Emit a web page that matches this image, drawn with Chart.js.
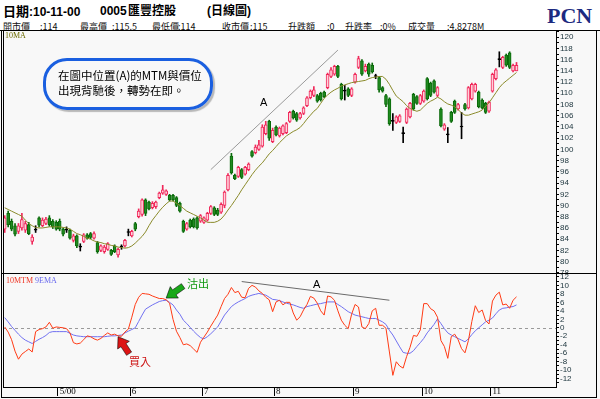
<!DOCTYPE html>
<html>
<head>
<meta charset="utf-8">
<title>0005 匯豐控股 日線圖</title>
<script src="https://cdn.jsdelivr.net/npm/chart.js@4.4.1/dist/chart.umd.min.js"></script>
<style>
  html, body { margin: 0; padding: 0; }
  body { width: 600px; height: 399px; position: relative; overflow: hidden; background: #f8f8f8;
         font-family: "Noto Sans CJK TC", "Liberation Sans", sans-serif; }
  #head { position: absolute; left: 0; top: 0; width: 600px; height: 31px; background: #fff; overflow: hidden; }
  .abs { position: absolute; white-space: nowrap; line-height: 1; }
  .t { top: 5px; font-size: 13px; font-weight: bold; color: #000;
       font-family: "Liberation Sans", "Noto Sans CJK TC", sans-serif; }
  .i { top: 21.5px; font-size: 9px; color: #111; }
  #pcn { left: 547px; top: 3px; font: bold 22px "Liberation Serif", serif; color: #1c2a80; }
  .ln { position: absolute; background: #000; }
  canvas { position: absolute; left: 0; }
  #bubble { position: absolute; left: 43px; top: 58px; width: 164px; height: 46px;
            border: 3px solid #1a5fe0; border-radius: 24px; box-shadow: 2px 2px 1px #b8b8b8; }
  .note { font-size: 11.5px; color: #000; }
  .tag { font: 8px "Liberation Serif", serif; }
</style>
</head>
<body>
<div id="head">
  <span class="abs t" style="left:3px">日期<span style="font-size:12px">:10-11-00</span></span>
  <span class="abs t" style="left:100px;font-size:12px">0005</span>
  <span class="abs t" style="left:128px;font-size:12px">匯豐控股</span>
  <span class="abs t" style="left:207px;font-size:12px">(日線圖)</span>
  <span class="abs i" style="left:3px">開市價</span><span class="abs i" style="left:40px">:114</span>
  <span class="abs i" style="left:80px">最高價</span><span class="abs i" style="left:112px">:115.5</span>
  <span class="abs i" style="left:152px">最低價</span><span class="abs i" style="left:178px">:114</span>
  <span class="abs i" style="left:222px">收市價</span><span class="abs i" style="left:250px">:115</span>
  <span class="abs i" style="left:288px">升跌額</span><span class="abs i" style="left:327px">:0</span>
  <span class="abs i" style="left:345px">升跌率</span><span class="abs i" style="left:380px">:0%</span>
  <span class="abs i" style="left:408px">成交量</span><span class="abs i" style="left:447px">:4.8278M</span>
  <span class="abs" id="pcn">PCN</span>
</div>

<canvas id="price" width="600" height="243" style="top:31px"></canvas>
<canvas id="mtm" width="600" height="125" style="top:274px"></canvas>

<div class="ln" style="left:0;top:30px;width:600px;height:1px"></div>
<div class="ln" style="left:1px;top:30px;width:1px;height:368px"></div>
<div class="ln" style="left:3px;top:30px;width:1px;height:357px"></div>
<div class="ln" style="left:596px;top:30px;width:1px;height:368px"></div>
<div class="ln" style="left:1px;top:273px;width:596px;height:1px"></div>
<div class="ln" style="left:1px;top:397px;width:596px;height:1px"></div>

<span class="abs tag" style="left:5px;top:31px;color:#6b6b00">10MA</span>
<span class="abs tag" style="left:6px;top:276px;color:#ee3322">10MTM</span>
<span class="abs tag" style="left:35px;top:276px;color:#6666ee">9EMA</span>

<div id="bubble"></div>
<span class="abs note" style="left:58px;top:70px">在圖中位置(A)的MTM與價位</span>
<span class="abs note" style="left:58px;top:85px">出現背馳後，轉勢在即。</span>

<span class="abs" style="left:260px;top:96px;font:11px 'Liberation Sans',sans-serif">A</span>
<span class="abs" style="left:313px;top:278px;font:11px 'Liberation Sans',sans-serif">A</span>
<span class="abs" style="left:187px;top:278px;font-size:11px;color:#129912">沽出</span>
<span class="abs" style="left:129px;top:356px;font-size:11px;color:#cc1111">買入</span>

<script>
// daily prices, 5 Apr 2000 .. 10 Nov 2000 (150 sessions)
const open = [
  85.8, 88.6, 87.2, 86.4, 85.4, 86.0, 85.6, 86.6, 83.6, 85.6,
  87.8, 86.4, 86.8, 87.8, 87.2, 87.0, 87.2, 85.8, 85.6, 85.6,
  83.8, 84.6, 82.6, 83.6, 84.8, 85.0, 84.2, 83.4, 82.0, 81.8,
  82.2, 82.0, 82.8, 81.2, 82.6, 82.8, 85.2, 84.6, 86.8, 88.0,
  88.4, 91.0, 90.6, 89.6, 89.8, 91.4, 92.2, 92.0, 91.8, 91.8,
  91.4, 90.4, 87.2, 85.8, 87.4, 87.6, 87.8, 87.2, 87.0, 87.4,
  88.6, 89.6, 89.2, 88.8, 90.0, 92.8, 98.8, 95.4, 95.2, 96.4,
  95.6, 96.4, 99.6, 99.4, 100.0, 100.6, 102.8, 105.0, 101.4, 104.0,
  102.4, 102.8, 103.0, 105.0, 106.8, 106.4, 105.6, 106.4, 107.8, 109.2,
  109.6, 109.6, 110.0, 110.2, 111.0, 113.0, 113.4, 114.8, 111.6, 110.4,
  110.8, 109.6, 112.0, 114.6, 115.8, 114.0, 115.2, 115.0, 113.0, 112.8,
  111.0, 109.6, 109.0, 105.0, 104.8, 105.0, 102.8, 104.8, 105.8, 109.8,
  109.4, 108.2, 108.6, 112.6, 111.8, 112.2, 109.6, 107.2, 103.6, 102.6,
  106.6, 108.6, 107.2, 104.0, 108.0, 107.4, 109.0, 110.4, 110.2, 108.8,
  108.2, 106.8, 110.4, 112.6, 116.0, 114.6, 116.8, 117.2, 114.0, 114.0
];
const high = [
  88.2, 89.0, 87.6, 86.8, 86.8, 88.6, 87.2, 87.0, 84.8, 86.4,
  88.0, 87.8, 87.9, 88.2, 87.5, 87.3, 87.6, 86.0, 86.2, 85.8,
  84.9, 84.8, 83.2, 85.0, 85.0, 85.2, 85.3, 83.6, 83.0, 82.9,
  83.4, 82.2, 83.0, 82.4, 83.0, 84.0, 85.8, 85.6, 87.0, 89.4,
  91.2, 91.2, 90.8, 90.7, 90.8, 92.4, 93.6, 92.8, 92.0, 92.0,
  91.6, 90.6, 87.4, 87.0, 87.6, 87.8, 88.0, 88.4, 88.0, 88.8,
  90.0, 89.8, 89.5, 90.5, 92.6, 95.7, 99.3, 95.6, 97.0, 96.6,
  97.0, 97.6, 99.8, 100.8, 101.6, 104.4, 105.0, 105.2, 103.8, 104.2,
  104.0, 104.4, 104.8, 106.8, 107.0, 106.6, 106.6, 107.6, 109.4, 110.6,
  111.2, 109.8, 110.2, 110.4, 113.6, 114.6, 115.0, 115.0, 111.8, 111.4,
  111.0, 111.0, 113.6, 116.6, 116.0, 115.2, 115.4, 115.4, 113.4, 113.0,
  111.2, 109.8, 109.2, 106.4, 106.0, 106.2, 104.0, 107.4, 108.4, 110.0,
  109.6, 109.8, 110.6, 112.8, 112.0, 112.4, 111.2, 107.4, 104.6, 103.9,
  106.8, 108.8, 108.2, 106.6, 108.2, 111.2, 111.8, 111.8, 110.4, 109.0,
  108.4, 108.6, 113.6, 114.4, 117.4, 116.6, 117.0, 117.4, 115.2, 115.5
];
const low = [
  85.2, 86.2, 85.5, 84.6, 85.0, 85.6, 85.2, 84.8, 83.1, 85.2,
  86.2, 86.2, 86.6, 86.3, 85.9, 85.6, 85.5, 84.6, 85.2, 84.0,
  83.5, 82.5, 81.9, 83.4, 84.0, 84.1, 84.0, 81.5, 81.8, 81.5,
  82.0, 81.1, 81.6, 80.8, 82.2, 82.6, 84.6, 84.4, 85.5, 87.8,
  88.1, 88.2, 89.2, 89.4, 89.5, 91.2, 92.0, 91.8, 90.8, 90.8,
  89.8, 88.8, 85.2, 85.6, 86.0, 86.0, 85.8, 87.0, 86.8, 87.2,
  88.4, 88.2, 88.2, 88.6, 89.6, 92.6, 95.6, 94.6, 95.0, 94.8,
  95.4, 96.2, 98.6, 99.2, 99.8, 100.4, 102.6, 101.6, 101.2, 102.4,
  102.2, 102.6, 102.8, 104.8, 105.4, 105.0, 105.4, 106.2, 107.6, 109.0,
  109.4, 108.4, 108.6, 109.2, 110.8, 112.8, 113.2, 112.8, 108.8, 108.8,
  109.4, 109.4, 111.8, 114.4, 113.2, 113.8, 113.0, 113.6, 112.6, 110.2,
  110.2, 107.6, 104.3, 103.4, 104.6, 104.8, 101.2, 104.6, 105.6, 107.0,
  108.0, 108.0, 108.4, 108.8, 109.4, 110.0, 109.4, 104.0, 103.4, 101.2,
  104.8, 106.4, 107.0, 101.9, 107.0, 107.2, 108.8, 110.2, 107.4, 107.2,
  106.4, 106.6, 110.2, 112.4, 114.7, 114.4, 114.8, 114.4, 113.8, 114.0
];
const close = [
  87.8, 86.6, 85.8, 84.9, 86.4, 87.5, 86.8, 85.0, 84.4, 85.6,
  86.5, 87.4, 87.6, 86.6, 86.2, 85.8, 85.8, 84.9, 85.6, 84.2,
  84.6, 82.8, 82.6, 84.8, 84.2, 84.3, 85.0, 81.8, 82.8, 82.6,
  83.2, 81.3, 81.8, 82.2, 82.6, 83.8, 85.2, 85.4, 85.8, 89.0,
  91.0, 88.6, 89.4, 90.4, 90.6, 92.2, 92.8, 92.6, 91.0, 91.0,
  90.0, 89.0, 85.4, 86.8, 86.2, 86.2, 86.0, 88.2, 87.8, 88.6,
  89.8, 88.4, 88.4, 90.2, 92.4, 95.4, 95.8, 94.8, 96.8, 95.0,
  96.8, 97.4, 98.8, 100.4, 100.8, 104.0, 104.4, 102.0, 103.4, 102.6,
  103.8, 104.2, 104.6, 106.6, 105.6, 105.2, 106.4, 107.4, 109.2, 110.4,
  110.6, 108.6, 108.8, 109.4, 113.4, 114.2, 114.8, 113.0, 109.0, 110.4,
  109.6, 110.8, 113.4, 116.2, 113.4, 114.8, 113.4, 113.8, 113.0, 110.6,
  110.4, 108.0, 104.6, 105.0, 105.8, 106.0, 102.8, 107.2, 108.2, 107.2,
  108.2, 109.6, 110.4, 109.0, 109.6, 110.2, 111.0, 104.2, 104.4, 102.6,
  105.0, 106.6, 108.0, 104.0, 107.2, 111.0, 111.6, 111.6, 107.6, 107.4,
  106.6, 108.4, 113.4, 114.2, 116.0, 116.4, 115.0, 114.6, 115.0, 115.0
];
const ma10 = [
  89.6, 89.3, 89.0, 88.7, 88.4, 88.1, 87.4, 86.8, 86.4, 86.1,
  86.0, 86.0, 86.1, 86.2, 86.2, 86.2, 86.2, 86.1, 86.0, 85.8,
  85.4, 85.0, 84.8, 84.5, 84.2, 84.0, 83.7, 83.5, 83.4, 83.2,
  83.1, 82.9, 82.8, 82.6, 82.5, 82.4, 82.5, 82.8, 83.3, 83.9,
  84.5, 85.3, 86.4, 87.4, 88.2, 89.0, 89.7, 90.3, 90.8, 90.8,
  90.4, 90.0, 89.5, 89.0, 88.7, 88.4, 88.1, 87.8, 87.4, 87.0,
  87.0, 87.0, 87.2, 87.6, 88.3, 89.2, 90.0, 90.9, 91.8, 92.8,
  93.7, 94.6, 95.5, 96.3, 97.0, 97.6, 98.4, 99.2, 99.8, 100.5,
  101.2, 101.8, 102.4, 102.8, 103.2, 103.5, 103.9, 104.6, 105.4, 106.1,
  106.8, 107.3, 108.2, 109.1, 109.7, 110.2, 110.6, 110.9, 111.3, 111.5,
  111.7, 111.9, 112.0, 112.1, 112.2, 112.3, 112.6, 112.8, 112.9, 113.0,
  113.0, 112.5, 111.6, 110.5, 109.5, 109.0, 108.5, 107.8, 107.3, 107.0,
  106.8, 107.0, 107.6, 108.2, 108.6, 108.9, 109.3, 109.0, 108.5, 108.1,
  107.9, 107.6, 107.1, 106.5, 106.1, 106.1, 106.3, 106.5, 106.7, 107.0,
  107.7, 108.3, 109.2, 110.1, 111.0, 111.7, 112.2, 112.7, 113.2, 113.7
];
const mtm10 = [
  0.2, -1.0, -2.8, -5.5, -7.4, -6.2, -5.6, -5.0, -5.7, -0.9,
  -0.4, -0.2, 0.2, 1.3, -0.1, 0.2, 0.1, 0.0, -0.2, -1.2,
  -3.5, -3.8, -3.6, -2.8, -1.9, -2.1, -2.6, -2.9, -2.5, -1.8,
  -1.2, -1.7, -1.5, -1.9, -2.0, -1.0, -0.3, 2.5, 5.5, 7.2,
  8.1, 8.0, 7.9, 7.5, 7.2, 6.9, 6.9, 6.6, 5.8, 2.0,
  -0.8, -2.3, -4.0, -3.8, -4.2, -5.0, -5.8, -3.4, -2.2, -1.0,
  0.4, 1.7, 3.0, 5.0, 6.9, 7.9, 9.5, 8.3, 8.6, 7.2,
  7.1, 9.3, 10.0, 9.6, 8.7, 8.1, 7.2, 6.6, 3.8, 6.1,
  6.5, 5.4, 6.0, 6.0, 3.5, 1.8, 2.6, 4.2, 5.5, 7.4,
  7.0, 5.8, 4.0, 3.0, 7.5, 7.3, 6.5, 4.0, 1.8, 0.6,
  -0.2, 3.2, 5.5, 4.9, 0.2, -0.2, 1.0, 4.0, 4.6, 0.6,
  0.6, -0.1, -5.7, -11.2, -8.0, -9.0, -9.5, -6.8, -4.6, -1.8,
  -2.0, -0.5, 5.7, 5.7, 4.5, 4.0, 2.5, -3.0, -4.4, -7.2,
  -2.1, -1.5, -2.8, -4.9, -5.9, -3.0, 1.5, 5.2, 3.6, 4.2,
  1.7, 0.9, 6.3, 7.7, 8.4, 5.4, 5.6, 4.6, 6.5, 7.3
];
const ema9 = [
  2.4, 1.4, 0.3, -0.6, -1.5, -2.3, -2.9, -3.3, -3.7, -3.2,
  -2.7, -2.3, -1.8, -1.1, -0.9, -0.9, -0.9, -0.9, -0.9, -1.3,
  -1.7, -1.9, -2.0, -2.1, -2.1, -2.1, -2.1, -2.1, -2.1, -2.1,
  -2.0, -1.9, -1.9, -1.8, -1.7, -1.2, -0.8, -0.4, 0.0, 1.5,
  3.0, 4.4, 4.9, 5.4, 5.8, 6.2, 6.4, 6.5, 6.0, 5.4,
  4.2, 3.2, 1.8, 1.0, 0.1, -0.8, -1.6, -2.3, -2.6, -2.1,
  -1.4, -0.6, 0.2, 1.6, 3.0, 4.0, 5.0, 5.6, 6.1, 6.5,
  6.9, 7.4, 7.7, 7.9, 8.1, 7.9, 7.7, 7.2, 6.7, 6.6,
  6.4, 6.1, 5.8, 5.6, 5.4, 5.1, 4.8, 4.6, 5.0, 5.2,
  5.4, 5.6, 5.7, 5.9, 6.1, 6.1, 6.1, 5.5, 5.0, 4.4,
  3.8, 3.4, 3.0, 2.8, 2.6, 2.4, 2.2, 2.2, 2.2, 1.8,
  1.4, 0.8, -0.6, -1.7, -3.1, -4.5, -5.8, -6.0, -6.0, -5.4,
  -4.4, -3.5, -2.5, -1.2, -0.2, 0.8, 2.1, 1.0, -0.2, -1.2,
  -1.7, -2.1, -2.5, -2.9, -3.3, -2.6, -1.6, -0.7, 0.0, 0.7,
  1.4, 1.8, 2.3, 3.3, 4.2, 4.6, 4.7, 4.9, 5.0, 5.4
];

// month ticks on the date axis (session index where each month starts)
const monthLabels = ['5/00', '6', '7', '8', '9', '10', '11'];
const monthStart = [16, 37, 58, 79, 102, 122, 142];

// the two divergence lines marked "A" (session index, value)
const priceTrend = [[60, 96.4], [97, 117.7]];
const mtmTrend = [[69, 10.9], [112, 6.5]];
// arrow tips: sell (沽出) and buy (買入) on the MTM panel
const sellTip = [47, 7.0];
const buyTip = [33, -2.1];

const SLOTS = 161; // sessions + empty space before the price axis
const slots = Array.from({ length: SLOTS }, (_, i) => i);

const UP = '#f0285a', UP_FILL = '#ffd0da', DOWN = '#0a6a0a', DOWN_FILL = '#208a20';
const kind = i => close[i] > open[i] ? 'up' : close[i] < open[i] ? 'down' : 'doji';
const edgeColor = i => ({ up: UP, down: DOWN, doji: '#000' })[kind(i)];
const fillColor = i => ({ up: UP_FILL, down: DOWN_FILL, doji: '#000' })[kind(i)];

const tickFont = { size: 8, family: "'Liberation Sans Narrow', 'Liberation Sans', sans-serif" };
const noPad = s => { s.paddingTop = 0; s.paddingBottom = 0; s.paddingLeft = 0; s.paddingRight = 0; };

function rightAxis(min, max) {
  return {
    position: 'right', min, max,
    afterFit: s => { s.width = 44; noPad(s); },
    border: { display: true, color: '#000' },
    grid: { drawOnChartArea: false, tickLength: 3, tickColor: '#000' },
    ticks: {
      stepSize: 1, autoSkip: false, includeBounds: false, padding: 1,
      color: '#203840', font: tickFont,
      callback: v => (v % 2 === 0 ? String(v) : '')
    }
  };
}

const base = {
  responsive: false, animation: false, devicePixelRatio: 1,
  layout: { padding: { left: 3, right: 0, top: 0, bottom: 0 } },
  plugins: { legend: { display: false }, tooltip: { enabled: false } }
};

Chart.defaults.font.family = "'Liberation Sans', sans-serif";

new Chart(document.getElementById('price'), {
  type: 'bar',
  data: {
    labels: slots,
    datasets: [
      {
        type: 'line', order: 0, data: ma10,
        borderColor: '#8a8a2a', borderWidth: 1, pointRadius: 0, tension: 0
      },
      {
        type: 'line', order: 0,
        data: priceTrend.map(([x, y]) => ({ x, y })),
        borderColor: '#9a9a9a', borderWidth: 1, pointRadius: 0
      },
      {
        order: 1, grouped: false, barThickness: 3, minBarLength: 1, borderSkipped: false,
        data: open.map((o, i) => [o, close[i]]),
        backgroundColor: c => fillColor(c.dataIndex),
        borderColor: c => edgeColor(c.dataIndex), borderWidth: 1
      },
      {
        order: 2, grouped: false, barThickness: 1, borderSkipped: false,
        data: low.map((l, i) => [l, high[i]]),
        backgroundColor: c => edgeColor(c.dataIndex), borderWidth: 0
      }
    ]
  },
  options: {
    ...base,
    scales: {
      x: { type: 'category', offset: true, display: false, grid: { offset: true } },
      y: rightAxis(77.8, 121.1)
    }
  }
});

function blockArrow(ctx, tx, ty, dx, dy, fill) {
  const len = Math.hypot(dx, dy), ux = dx / len, uy = dy / len, px = -uy, py = ux;
  const hl = 10, hw = 7, sw = 3;
  const pts = [[0, 0], [hl, hw], [hl, sw], [len, sw], [len, -sw], [hl, -sw], [hl, -hw]];
  ctx.save();
  ctx.beginPath();
  pts.forEach(([a, b], k) => {
    const x = tx + ux * a + px * b, y = ty + uy * a + py * b;
    k ? ctx.lineTo(x, y) : ctx.moveTo(x, y);
  });
  ctx.closePath();
  ctx.fillStyle = fill;
  ctx.fill();
  ctx.strokeStyle = 'rgba(0,0,0,0.55)';
  ctx.lineWidth = 1;
  ctx.stroke();
  ctx.restore();
}

const mtmDecor = {
  id: 'mtmDecor',
  beforeDatasetsDraw(chart) {
    const { ctx, chartArea, scales: { y } } = chart;
    const y0 = Math.round(y.getPixelForValue(0)) + 0.5;
    ctx.save();
    ctx.strokeStyle = '#9a9a9a';
    ctx.lineWidth = 1;
    ctx.setLineDash([3, 3]);
    ctx.beginPath();
    ctx.moveTo(chartArea.left, y0);
    ctx.lineTo(chartArea.right, y0);
    ctx.stroke();
    ctx.restore();
  },
  afterDatasetsDraw(chart) {
    const { ctx, scales: { x, y } } = chart;
    blockArrow(ctx, x.getPixelForValue(sellTip[0]), y.getPixelForValue(sellTip[1]), 17, -12, '#18a818');
    blockArrow(ctx, x.getPixelForValue(buyTip[0]), y.getPixelForValue(buyTip[1]), 11, 17, '#dd1414');
  }
};

new Chart(document.getElementById('mtm'), {
  type: 'line',
  data: {
    labels: slots,
    datasets: [
      { data: mtm10, borderColor: '#ff3a14', borderWidth: 1, pointRadius: 0, tension: 0 },
      { data: ema9, borderColor: '#7070f0', borderWidth: 1, pointRadius: 0, tension: 0 },
      {
        data: mtmTrend.map(([x, y]) => ({ x, y })),
        borderColor: '#6a6a6a', borderWidth: 1, pointRadius: 0
      }
    ]
  },
  options: {
    ...base,
    scales: {
      x: {
        type: 'category', offset: true,
        afterFit: s => { s.height = 12; noPad(s); },
        border: { display: true, color: '#000' },
        grid: {
          offset: true, drawOnChartArea: false, tickLength: 9,
          tickColor: c => (monthStart.includes(c.index) ? '#000' : 'rgba(0,0,0,0)')
        },
        ticks: {
          autoSkip: false, maxRotation: 0, align: 'start', padding: -10,
          color: '#000', font: { size: 9, family: "'Liberation Serif', serif" },
          callback: (v, i) => {
            const k = monthStart.indexOf(i);
            return k >= 0 ? monthLabels[k] : '';
          }
        }
      },
      y: rightAxis(-13.95, 12.68)
    }
  },
  plugins: [mtmDecor]
});
</script>
</body>
</html>
